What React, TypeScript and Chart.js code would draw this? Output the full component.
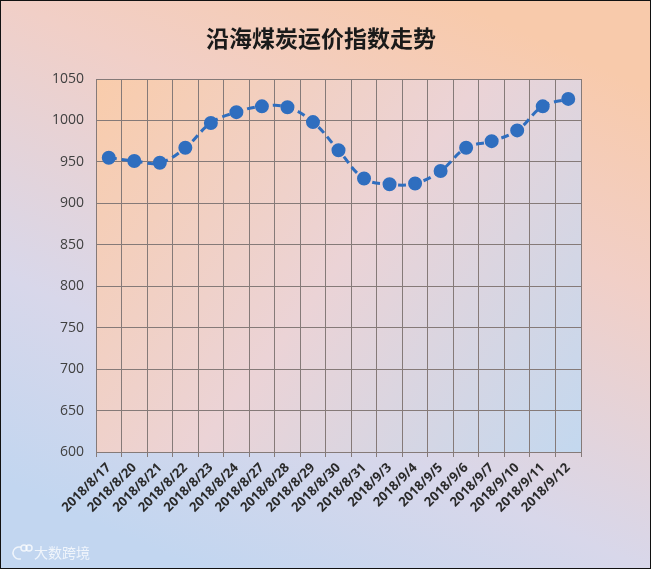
import React, { useEffect, useRef } from "react";
import { Chart, registerables } from "chart.js";

Chart.register(...registerables);

const TITLE = "沿海煤炭运价指数走势";
const WATERMARK = "大数跨境";
const categories = [
  "2018/8/17", "2018/8/20", "2018/8/21", "2018/8/22", "2018/8/23", "2018/8/24",
  "2018/8/27", "2018/8/28", "2018/8/29", "2018/8/30", "2018/8/31", "2018/9/3",
  "2018/9/4", "2018/9/5", "2018/9/6", "2018/9/7", "2018/9/10", "2018/9/11", "2018/9/12",
];
const values = [955, 951, 949, 967, 997, 1010, 1017, 1016, 998, 964, 930, 923, 924, 939, 967, 975, 988, 1017, 1026];
const yMin = 600;
const yMax = 1050;
const yStep = 50;

const W = 651;
const H = 569;

const bgPlugin = {
  id: "bgPlugin",
  beforeDraw(chart: any) {
    const ctx = chart.ctx;
    const w = chart.width;
    const h = chart.height;
    ctx.save();
    const g = ctx.createLinearGradient(w * 0.7, 0, w * 0.3, h);
    g.addColorStop(0, "#f8caab");
    g.addColorStop(0.3, "#f1cfc7");
    g.addColorStop(0.7, "#d8d7ea");
    g.addColorStop(1, "#c2d6f0");
    ctx.fillStyle = g;
    ctx.fillRect(0, 0, w, h);
    const a = chart.chartArea;
    const g2 = ctx.createLinearGradient(a.left, a.top, a.right, a.bottom);
    g2.addColorStop(0, "#f9ccab");
    g2.addColorStop(0.5, "#ebd3d6");
    g2.addColorStop(1, "#c3d8ef");
    ctx.fillStyle = g2;
    ctx.fillRect(a.left, a.top, a.right - a.left, a.bottom - a.top);
    ctx.strokeStyle = "#111111";
    ctx.lineWidth = 1;
    ctx.strokeRect(0.5, 0.5, w - 1, h - 1);
    ctx.fillStyle = "#1a1a1a";
    ctx.font = 'bold 23px "Noto Sans CJK SC", sans-serif';
    ctx.textAlign = "center";
    ctx.textBaseline = "middle";
    ctx.fillText(TITLE, 321, 38);
    ctx.fillStyle = "rgba(255,255,255,0.75)";
    ctx.font = '14px "Noto Sans CJK SC", sans-serif';
    ctx.textAlign = "left";
    ctx.fillText(WATERMARK, 34, 553);
    ctx.strokeStyle = "rgba(255,255,255,0.75)";
    ctx.lineWidth = 1.5;
    ctx.beginPath();
    ctx.arc(19, 553, 6, Math.PI * 0.4, Math.PI * 1.6);
    ctx.stroke();
    ctx.beginPath();
    ctx.arc(24, 548, 3, 0, Math.PI * 2);
    ctx.stroke();
    ctx.beginPath();
    ctx.arc(29, 548, 3, 0, Math.PI * 2);
    ctx.stroke();
    ctx.restore();
  },
};

export default function App() {
  const ref = useRef<HTMLCanvasElement>(null);
  useEffect(() => {
    if (!ref.current) return;
    const gridColor = "#857a78";
    const chart = new Chart(ref.current, {
      type: "line",
      data: {
        labels: categories,
        datasets: [
          {
            data: values,
            borderColor: "#2f6ebf",
            backgroundColor: "#2f6ebf",
            borderWidth: 3,
            borderDash: [8, 5],
            tension: 0.4,
            pointRadius: 5.5,
            pointBackgroundColor: "#2f6ebf",
            pointBorderColor: "#2f6ebf",
            fill: false,
          },
        ],
      },
      options: {
        animation: false,
        responsive: false,
        devicePixelRatio: 1,
        layout: { padding: { left: 0, top: 79, right: 70, bottom: 0 } },
        plugins: {
          legend: { display: false },
          title: { display: false },
          tooltip: { enabled: false },
        },
        scales: {
          x: {
            offset: true,
            grid: { offset: true, color: gridColor, tickLength: 5, drawTicks: true },
            border: { color: gridColor },
            ticks: {
              autoSkip: false,
              minRotation: 45,
              maxRotation: 45,
              padding: 3,
              color: "#2a2a2a",
              font: { family: '"Open Sans", sans-serif', size: 13, weight: "bold" },
            },
            afterFit: (s: any) => {
              s.height = H - 452;
            },
          },
          y: {
            min: yMin,
            max: yMax,
            grid: { color: gridColor, drawTicks: false },
            border: { color: gridColor },
            ticks: {
              stepSize: yStep,
              padding: 12,
              color: "#404040",
              font: { family: '"Open Sans", sans-serif', size: 14 },
              callback: (v: any) => String(v),
            },
            afterFit: (s: any) => {
              s.width = 96;
            },
          },
        },
      },
      plugins: [bgPlugin],
    } as any);
    return () => chart.destroy();
  }, []);
  return (
    <div style={{ position: "fixed", left: 0, top: 0, width: W, height: H }}>
      <canvas ref={ref} width={W} height={H} style={{ width: W, height: H, display: "block" }} />
    </div>
  );
}
